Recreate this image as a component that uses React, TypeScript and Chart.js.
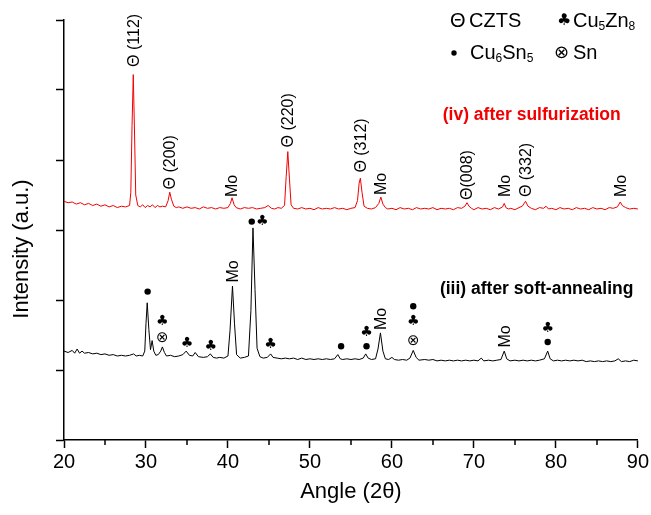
import { useEffect, useRef } from 'react';
import { Chart, registerables } from 'chart.js';

Chart.register(...registerables);

// ---------- data ----------
const xTickValues = [20, 30, 40, 50, 60, 70, 80, 90];
const xMinorTicks = [25, 35, 45, 55, 65, 75, 85];
const yTickValues = [0, 1, 2, 3, 4, 5, 6];

// (iv) after sulfurization
const redAngle = [
  20.0, 20.5, 21.0, 21.5, 22.0, 22.5, 23.0, 23.5, 24.0, 24.5, 25.0, 25.5, 26.0, 26.5, 27.0, 27.5, 28.0,
  28.15, 28.3, 28.45, 28.6, 28.75, 29.0, 29.3, 29.6, 29.9, 30.2, 30.5, 30.8, 31.1, 31.4, 31.7, 32.0,
  32.4, 32.7, 32.9, 33.1, 33.4, 33.7, 34.0, 34.5, 35.0, 35.5, 36.0, 36.5, 37.0, 37.5, 38.0, 38.5, 39.0,
  39.5, 40.0, 40.3, 40.5, 40.75, 41.0, 41.5, 42.0, 42.5, 43.0, 43.5, 44.0, 44.5, 44.9, 45.3, 45.7, 46.1,
  46.5, 46.9, 47.1, 47.3, 47.5, 47.7, 48.0, 48.5, 49.0, 49.5, 50.0, 50.5, 51.0, 51.5, 52.0, 52.5, 53.0,
  53.5, 54.0, 54.5, 55.0, 55.5, 55.8, 56.0, 56.15, 56.35, 56.6, 57.0, 57.5, 58.0, 58.4, 58.65, 58.9,
  59.2, 59.5, 60.0, 60.5, 61.0, 61.5, 62.0, 62.5, 63.0, 63.5, 64.0, 64.5, 65.0, 65.5, 66.0, 66.5, 67.0,
  67.5, 68.0, 68.5, 68.9, 69.15, 69.4, 69.7, 70.0, 70.5, 71.0, 71.5, 72.0, 72.5, 73.0, 73.5, 73.7, 73.9,
  74.2, 74.5, 75.0, 75.5, 75.9, 76.3, 76.6, 77.0, 77.5, 78.0, 78.5, 78.8, 79.1, 79.5, 80.0, 80.5, 81.0,
  81.5, 82.0, 82.5, 83.0, 83.5, 84.0, 84.5, 85.0, 85.5, 86.0, 86.5, 87.0, 87.5, 87.85, 88.1, 88.5, 89.0,
  89.5, 90.0,
];
const redIntensity = [
  3.41, 3.39, 3.40, 3.37, 3.39, 3.36, 3.38, 3.35, 3.37, 3.34, 3.36, 3.33, 3.35, 3.32, 3.34, 3.33, 3.35,
  3.54, 4.49, 5.22, 4.40, 3.50, 3.35, 3.33, 3.36, 3.32, 3.35, 3.33, 3.36, 3.32, 3.35, 3.33, 3.34,
  3.33, 3.42, 3.54, 3.44, 3.34, 3.32, 3.33, 3.31, 3.33, 3.31, 3.32, 3.30, 3.33, 3.31, 3.32, 3.30, 3.32,
  3.31, 3.32, 3.38, 3.46, 3.36, 3.32, 3.30, 3.32, 3.31, 3.32, 3.30, 3.31, 3.32, 3.35, 3.31, 3.30, 3.32,
  3.31, 3.35, 3.76, 4.12, 3.73, 3.36, 3.31, 3.30, 3.32, 3.30, 3.31, 3.29, 3.32, 3.30, 3.31, 3.30, 3.32,
  3.30, 3.31, 3.29, 3.31, 3.32, 3.42, 3.67, 3.74, 3.54, 3.34, 3.31, 3.30, 3.32, 3.38, 3.47, 3.37,
  3.32, 3.30, 3.31, 3.29, 3.32, 3.30, 3.31, 3.29, 3.32, 3.30, 3.31, 3.30, 3.32, 3.29, 3.31, 3.30, 3.31,
  3.29, 3.32, 3.31, 3.34, 3.39, 3.34, 3.31, 3.29, 3.32, 3.30, 3.31, 3.29, 3.32, 3.30, 3.33, 3.38, 3.32,
  3.30, 3.31, 3.29, 3.32, 3.34, 3.41, 3.34, 3.31, 3.29, 3.32, 3.31, 3.34, 3.30, 3.31, 3.29, 3.32, 3.30,
  3.31, 3.29, 3.32, 3.30, 3.31, 3.29, 3.32, 3.30, 3.31, 3.29, 3.32, 3.31, 3.33, 3.40, 3.35, 3.32, 3.30,
  3.31, 3.30,
];

// (iii) after soft-annealing
const blackAngle = [
  20.0, 20.5, 21.0, 21.3, 21.6, 21.9, 22.2, 22.5, 23.0, 23.5, 24.0, 24.5, 25.0, 25.5, 26.0, 26.5, 27.0,
  27.5, 28.0, 28.5, 28.8, 29.2, 29.6, 29.85, 30.0, 30.15, 30.35, 30.55, 30.75, 30.95, 31.2, 31.5, 31.8,
  32.0, 32.25, 32.5, 33.0, 33.5, 34.0, 34.5, 34.9, 35.3, 35.7, 36.0, 36.4, 37.0, 37.5, 37.85, 38.2, 38.6,
  39.0, 39.5, 40.0, 40.25, 40.55, 40.8, 41.05, 41.5, 42.0, 42.5, 42.8, 43.05, 43.3, 43.55, 43.9, 44.3,
  44.8, 45.2, 45.5, 46.0, 46.5, 47.0, 47.5, 48.0, 48.5, 49.0, 49.5, 50.0, 50.5, 51.0, 51.5, 52.0, 52.5,
  53.0, 53.4, 53.7, 54.0, 54.5, 55.0, 55.5, 56.0, 56.5, 56.8, 57.1, 57.5, 58.0, 58.3, 58.6, 58.9, 59.2,
  59.6, 60.0, 60.3, 60.8, 61.3, 61.8, 62.2, 62.6, 62.95, 63.3, 64.0, 64.5, 65.0, 65.5, 66.0, 66.5, 67.0,
  67.5, 68.0, 68.5, 69.0, 69.5, 70.0, 70.5, 70.9, 71.2, 71.8, 72.3, 72.8, 73.3, 73.7, 74.0, 74.4, 75.0,
  75.5, 76.0, 76.5, 77.0, 77.5, 78.0, 78.6, 79.0, 79.3, 79.7, 80.2, 80.7, 81.2, 81.7, 82.2, 82.7, 83.2,
  83.7, 84.2, 84.7, 85.2, 85.7, 86.2, 86.7, 87.2, 87.6, 88.0, 88.5, 89.0, 89.5, 90.0,
];
const blackIntensity = [
  1.27, 1.25, 1.28, 1.24, 1.30, 1.24, 1.27, 1.24, 1.25, 1.23, 1.24, 1.22, 1.23, 1.21, 1.22, 1.20, 1.21,
  1.20, 1.21, 1.23, 1.20, 1.21, 1.20, 1.27, 1.66, 1.96, 1.58, 1.29, 1.42, 1.27, 1.21, 1.22, 1.27,
  1.33, 1.25, 1.20, 1.21, 1.19, 1.20, 1.22, 1.27, 1.21, 1.20, 1.25, 1.19, 1.18, 1.19, 1.23, 1.18, 1.17,
  1.18, 1.17, 1.20, 1.56, 2.20, 1.66, 1.22, 1.17, 1.18, 1.20, 1.85, 3.03, 2.15, 1.31, 1.19, 1.17,
  1.18, 1.23, 1.18, 1.17, 1.16, 1.17, 1.16, 1.17, 1.15, 1.17, 1.15, 1.16, 1.15, 1.16, 1.15, 1.16, 1.15,
  1.16, 1.22, 1.16, 1.15, 1.16, 1.15, 1.16, 1.15, 1.17, 1.23, 1.17, 1.15, 1.16, 1.30, 1.53, 1.27, 1.16,
  1.15, 1.18, 1.15, 1.14, 1.15, 1.14, 1.17, 1.28, 1.18, 1.14, 1.15, 1.14, 1.15, 1.13, 1.14, 1.13, 1.14,
  1.13, 1.14, 1.13, 1.14, 1.13, 1.14, 1.13, 1.17, 1.13, 1.14, 1.13, 1.14, 1.15, 1.27, 1.16, 1.13, 1.14,
  1.13, 1.14, 1.13, 1.14, 1.13, 1.14, 1.16, 1.27, 1.16, 1.13, 1.14, 1.13, 1.14, 1.13, 1.14, 1.13, 1.14,
  1.12, 1.13, 1.12, 1.13, 1.12, 1.13, 1.12, 1.13, 1.16, 1.12, 1.13, 1.12, 1.14, 1.13,
];

// peak labels on the red pattern (rotated), level = start of the text
const redLabelText = ['Θ (112)', 'Θ (200)', 'Mo', 'Θ (220)', 'Θ (312)', 'Mo', 'Θ(008)', 'Mo', 'Θ (332)', 'Mo'];
const redLabelAngle = [28.45, 32.9, 40.5, 47.3, 56.15, 58.65, 69.15, 73.7, 76.3, 87.85];
const redLabelLevel = [5.33, 3.58, 3.47, 4.18, 3.82, 3.5, 3.43, 3.47, 3.47, 3.47];

// Mo labels on the black pattern (rotated)
const blackMoAngle = [40.55, 58.6, 73.7];
const blackMoLevel = [2.25, 1.57, 1.32];

// phase markers on the black pattern
const markKind = ['dot', 'club', 'sn', 'club', 'club', 'dot', 'club', 'club', 'dot', 'club', 'dot', 'dot', 'club', 'sn', 'club', 'dot'];
const markAngle = [30.2, 32.0, 32.0, 35.0, 37.9, 42.9, 44.2, 45.2, 53.8, 56.9, 56.9, 62.6, 62.6, 62.6, 79.0, 79.0];
const markLevel = [2.12, 1.69, 1.46, 1.38, 1.34, 3.12, 3.12, 1.37, 1.34, 1.54, 1.34, 1.91, 1.69, 1.41, 1.59, 1.4];

const sampleText = ['(iv) after sulfurization', '(iii) after soft-annealing'];
const sampleAngle = [66.2, 65.85];
const sampleLevel = [4.64, 2.15];

const FONT = "'Liberation Sans', Arial, Helvetica, sans-serif";
const SYM = "'DejaVu Sans', 'Liberation Sans', sans-serif";
const RED = '#f20000';

function drawRuns(ctx: CanvasRenderingContext2D, x: number, y: number, runs: [string, boolean][]) {
  let cx = x;
  for (const [t, sub] of runs) {
    ctx.font = sub ? `12px ${FONT}` : `20px ${FONT}`;
    ctx.fillText(t, cx, sub ? y + 6 : y);
    cx += ctx.measureText(t).width;
  }
}

const annotationPlugin = {
  id: 'xrdAnnotations',
  afterDraw(chart: any) {
    const { ctx, scales } = chart;
    const xs = scales.x;
    const ys = scales.y;
    ctx.save();
    // minor x ticks
    ctx.strokeStyle = '#000';
    ctx.lineWidth = 1.5;
    const yb = ys.getPixelForValue(0);
    for (const v of xMinorTicks) {
      const px = Math.round(xs.getPixelForValue(v));
      ctx.beginPath();
      ctx.moveTo(px, yb);
      ctx.lineTo(px, yb + 5);
      ctx.stroke();
    }

    // y axis title
    ctx.fillStyle = '#000';
    ctx.font = `22px ${FONT}`;
    ctx.textAlign = 'center';
    ctx.textBaseline = 'middle';
    ctx.save();
    ctx.translate(22, 249);
    ctx.rotate(-Math.PI / 2);
    ctx.fillText('Intensity (a.u.)', 0, 0);
    ctx.restore();

    // rotated red labels
    ctx.textAlign = 'left';
    ctx.textBaseline = 'middle';
    ctx.font = `16px ${FONT}`;
    redLabelText.forEach((t, i) => {
      const px = xs.getPixelForValue(redLabelAngle[i]) + 1;
      const py = ys.getPixelForValue(redLabelLevel[i]);
      ctx.save();
      ctx.translate(px, py);
      ctx.rotate(-Math.PI / 2);
      ctx.fillText(t, 0, 0);
      ctx.restore();
    });
    blackMoAngle.forEach((a, i) => {
      const px = xs.getPixelForValue(a) + 1;
      const py = ys.getPixelForValue(blackMoLevel[i]);
      ctx.save();
      ctx.translate(px, py);
      ctx.rotate(-Math.PI / 2);
      ctx.fillText('Mo', 0, 0);
      ctx.restore();
    });

    // markers
    ctx.textAlign = 'center';
    markKind.forEach((k, i) => {
      const px = xs.getPixelForValue(markAngle[i]);
      const py = ys.getPixelForValue(markLevel[i]);
      if (k === 'dot') {
        ctx.beginPath();
        ctx.arc(px, py, 3.2, 0, Math.PI * 2);
        ctx.fill();
      } else if (k === 'club') {
        ctx.font = `14px ${SYM}`;
        ctx.fillText('♣', px, py);
      } else {
        ctx.font = `15px ${SYM}`;
        ctx.fillText('⊗', px, py);
      }
    });

    // sample names
    ctx.textAlign = 'left';
    ctx.font = `bold 17.5px ${FONT}`;
    sampleText.forEach((t, i) => {
      ctx.fillStyle = i === 0 ? RED : '#000';
      ctx.fillText(t, xs.getPixelForValue(sampleAngle[i]), ys.getPixelForValue(sampleLevel[i]));
    });

    // legend
    ctx.fillStyle = '#000';
    ctx.textAlign = 'left';
    ctx.textBaseline = 'middle';
    ctx.font = `20px ${FONT}`;
    ctx.fillText('Θ', 450, 21);
    drawRuns(ctx, 469, 21, [['CZTS', false]]);
    ctx.font = `16px ${SYM}`;
    ctx.fillText('♣', 557, 21);
    drawRuns(ctx, 573, 21, [['Cu', false], ['5', true], ['Zn', false], ['8', true]]);
    ctx.beginPath();
    ctx.arc(454, 53, 2.7, 0, Math.PI * 2);
    ctx.fill();
    drawRuns(ctx, 470, 53, [['Cu', false], ['6', true], ['Sn', false], ['5', true]]);
    ctx.font = `18px ${SYM}`;
    ctx.fillText('⊗', 554, 53);
    drawRuns(ctx, 573, 53, [['Sn', false]]);
    ctx.restore();
  },
};

export default function App() {
  const canvasRef = useRef<HTMLCanvasElement | null>(null);

  useEffect(() => {
    const canvas = canvasRef.current;
    if (!canvas) return;
    Chart.defaults.font.family = FONT;
    const redData = redAngle.map((a, i) => ({ x: a, y: redIntensity[i] }));
    const blackData = blackAngle.map((a, i) => ({ x: a, y: blackIntensity[i] }));
    const chart = new Chart(canvas, {
      type: 'line',
      data: {
        datasets: [
          { label: '(iv) after sulfurization', data: redData, borderColor: RED, borderWidth: 1, pointRadius: 0, tension: 0 },
          { label: '(iii) after soft-annealing', data: blackData, borderColor: '#000', borderWidth: 1, pointRadius: 0, tension: 0 },
        ],
      },
      options: {
        animation: false,
        responsive: false,
        devicePixelRatio: 1,
        layout: { padding: { left: 0, right: 13, top: 20, bottom: 0 } },
        plugins: { legend: { display: false }, tooltip: { enabled: false }, title: { display: false } },
        scales: {
          x: {
            type: 'linear',
            min: 20,
            max: 90,
            afterFit: (s: any) => { s.height = 75; },
            afterBuildTicks: (s: any) => { s.ticks = xTickValues.map((v) => ({ value: v })); },
            ticks: { color: '#000', font: { family: FONT, size: 20 }, padding: 2, maxRotation: 0, autoSkip: false },
            grid: { drawOnChartArea: false, drawTicks: true, tickLength: 8, tickColor: '#000', tickWidth: 1.5 },
            border: { display: true, color: '#000', width: 1.5 },
            title: { display: true, text: 'Angle (2θ)', color: '#000', font: { family: FONT, size: 22 }, padding: { top: 0, bottom: 10 } },
          },
          y: {
            type: 'linear',
            min: 0,
            max: 6,
            afterFit: (s: any) => { s.width = 64; },
            afterBuildTicks: (s: any) => { s.ticks = yTickValues.map((v) => ({ value: v })); },
            ticks: { display: false },
            grid: { drawOnChartArea: false, drawTicks: true, tickLength: 8, tickColor: '#000', tickWidth: 1.5 },
            border: { display: true, color: '#000', width: 1.5 },
            title: { display: false },
          },
        },
      },
      plugins: [annotationPlugin],
    } as any);
    return () => chart.destroy();
  }, []);

  return (
    <div style={{ position: 'absolute', left: 0, top: 0, width: 651, height: 515, background: '#fff' }}>
      <canvas ref={canvasRef} width={651} height={515} style={{ display: 'block' }} />
    </div>
  );
}
